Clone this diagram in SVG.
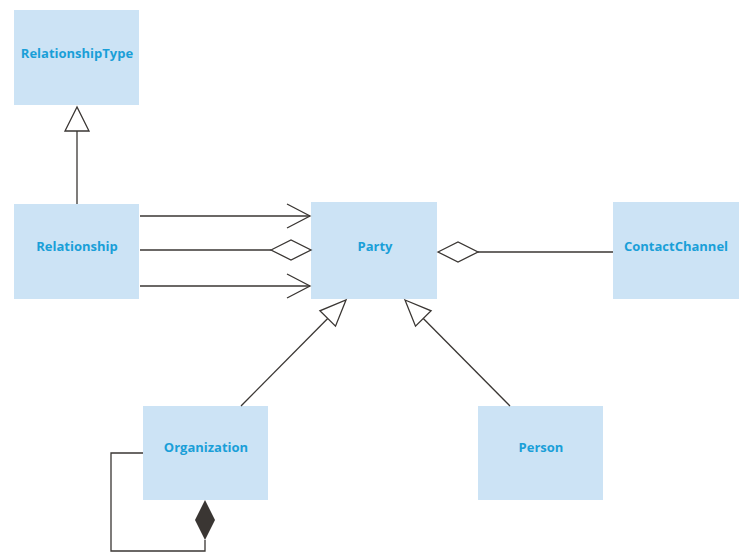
<svg xmlns="http://www.w3.org/2000/svg" width="751" height="557" viewBox="0 0 751 557">
<style>
.box{fill:#cce3f5}
.t{font-family:"Open Sans","Liberation Sans",sans-serif;font-weight:bold;font-size:13px;fill:#1a9fd8;text-anchor:middle}
.l{stroke:#3a3633;stroke-width:1.3;fill:none}
.w{stroke:#3a3633;stroke-width:1.3;fill:#fff}
</style>
<rect width="751" height="557" fill="#fff"/>
<g id="RelationshipType"><rect class="box" x="14" y="10" width="125" height="95"/><text class="t" x="77" y="58">RelationshipType</text></g>
<g id="Relationship"><rect class="box" x="14" y="204" width="125" height="95"/><text class="t" x="77" y="251">Relationship</text></g>
<g id="Party"><rect class="box" x="311" y="202" width="126" height="97"/><text class="t" x="375" y="251">Party</text></g>
<g id="ContactChannel"><rect class="box" x="613" y="202" width="126" height="97"/><text class="t" x="676" y="251">ContactChannel</text></g>
<g id="Organization"><rect class="box" x="143" y="406" width="125" height="94"/><text class="t" x="206" y="452">Organization</text></g>
<g id="Person"><rect class="box" x="478" y="406" width="125" height="94"/><text class="t" x="541" y="452">Person</text></g>
<g id="connectors">
<line class="l" x1="77" y1="204" x2="77" y2="131"/>
<polygon class="w" points="77,107 65,131 89,131"/>
<line class="l" x1="140" y1="216" x2="310" y2="216"/>
<polyline class="l" points="287,204 310,216 287,228"/>
<line class="l" x1="140" y1="250" x2="271" y2="250"/>
<polygon class="w" points="271,250 291,240 311,250 291,260"/>
<line class="l" x1="140" y1="286" x2="310" y2="286"/>
<polyline class="l" points="287,274 310,286 287,298"/>
<line class="l" x1="478" y1="252" x2="613" y2="252"/>
<polygon class="w" points="438,252 458,242 478,252 458,262"/>
<line class="l" x1="241" y1="406" x2="327.7" y2="318.5"/>
<polygon class="w" points="346,300 335.5,326.2 319.9,310.8"/>
<line class="l" x1="510" y1="406" x2="423.3" y2="318.5"/>
<polygon class="w" points="405,300 431.1,310.8 415.5,326.2"/>
<polyline class="l" points="143,453 111,453 111,551 205,551 205,540"/>
<polygon points="205,500 215,520 205,540 195,520" fill="#3a3633"/>
</g>
</svg>
